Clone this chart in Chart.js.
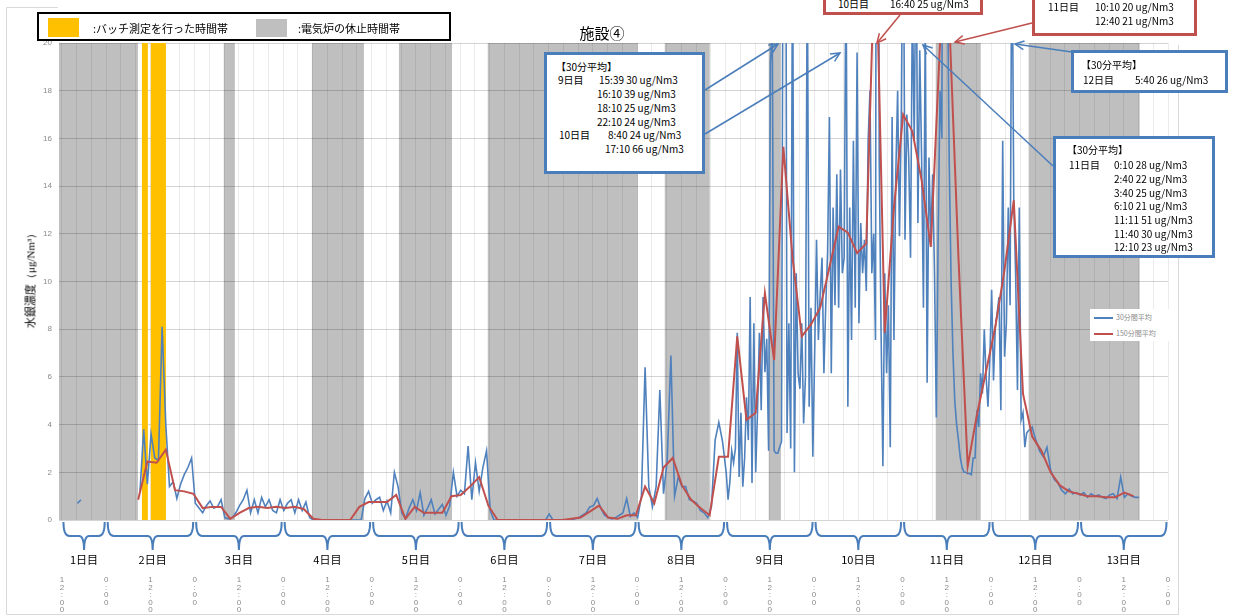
<!DOCTYPE html>
<html lang="ja">
<head>
<meta charset="utf-8">
<title>施設④</title>
<script src="https://cdn.jsdelivr.net/npm/chart.js@4.4.1/dist/chart.umd.min.js"></script>
<style>
  html, body { margin: 0; padding: 0; background: #fff; }
  #wrap { position: relative; width: 1237px; height: 616px; overflow: hidden;
          font-family: "Noto Sans CJK JP", "Noto Sans", sans-serif; color: #000; }
  #chart { position: absolute; left: 0; top: 0; }
  .abs  { position: absolute; white-space: nowrap; }
  .note { position: absolute; box-sizing: border-box; background: #fff; border: 3px solid #4a7ebb; }
  .txt  { position: absolute; font-size: 10px; line-height: 14px; white-space: nowrap; }
  .lg   { height: 16px; line-height: 16px; font-size: 7px; color: #8a8a8a; }
  .ln   { display: inline-block; width: 19px; border-top: 2px solid; vertical-align: middle; margin: 0 3px 0 4px; }
</style>
</head>
<body>
<div id="wrap">
  <canvas id="chart" width="1237" height="616"></canvas>

  <div class="abs" style="left:602px;top:32px;transform:translate(-50%,-50%);font-size:15px;">施設④</div>
  <div class="abs" style="left:30px;top:278px;transform:translate(-50%,-50%) rotate(-90deg);font-size:11px;">水銀濃度<span style="font-family:'Liberation Serif',serif;">（μg/Nm³）</span></div>

  <!-- top legend -->
  <div class="abs" style="left:37px;top:12px;width:414px;height:29px;border:2px solid #000;box-sizing:border-box;background:#fff;"></div>
  <div class="abs" style="left:48px;top:18px;width:31px;height:19px;background:#ffc000;"></div>
  <div class="abs" style="left:93px;top:20px;font-size:11px;line-height:16px;">:バッチ測定を行った時間帯</div>
  <div class="abs" style="left:256px;top:19px;width:31px;height:18px;background:#bfbfbf;"></div>
  <div class="abs" style="left:298px;top:20px;font-size:11px;line-height:16px;">:電気炉の休止時間帯</div>

  <!-- series legend -->
  <div class="abs" style="left:1090px;top:309px;width:80px;height:32px;background:#fff;">
    <div class="lg"><span class="ln" style="border-color:#4f81bd"></span>30分間平均</div>
    <div class="lg"><span class="ln" style="border-color:#c0504d"></span>150分間平均</div>
  </div>

  <div id="notes"></div>
</div>

<script>
// ── Data ─────────────────────────────────────────────────────
// hours counted from 1日目 0:00

// 30-minute average. Days 1-8: read every hour at hh:10 from 1日目 16:10
const blueDay1  = [0.7, 0.85, null, null, null, null, null, null];
const blueDay2  = [null, null, null, null, null, null, null, null, null, 1.2, 3.8, 1.5, 3.6, 2.6, 2.5, 8.1, 4.0, 1.4, 1.6, 0.9, 1.5, 1.9, 2.2, 2.6];
const blueDay3  = [0.7, 0.5, 0.3, 0.6, 0.8, 0.5, 0.55, 0.85, 0.1, 0.05, 0.1, 0.3, 0.6, 0.85, 1.25, 0.3, 0.85, 0.3, 0.95, 0.55, 0.85, 0.4, 0.3, 0.85];
const blueDay4  = [0.4, 0.7, 0.85, 0.3, 0.85, 0.4, 0.75, 0.1, 0, 0, 0, 0, 0, 0, 0, 0, 0, 0, 0, 0, 0, 0, 0.9, 1.2];
const blueDay5  = [0.7, 0.85, 0.95, 0.4, 0.8, 0.3, 2.0, 1.4, 0.3, 0.05, 0.5, 0.85, 0.4, 1.15, 0.2, 0.5, 0.85, 0.25, 0.45, 0.65, 0.2, 0.6, 2.0, 1.0];
const blueDay6  = [1.25, 1.1, 3.1, 0.85, 2.4, 1.2, 2.2, 2.9, 0.4, 0, 0, 0, 0, 0, 0, 0, 0, 0, 0, 0, 0, 0, 0, 0];
const blueDay7  = [0.25, 0, 0, 0, 0, 0, 0, 0.05, 0.1, 0.2, 0.3, 0.55, 0.6, 0.9, 0.5, 0.2, 0.1, 0.05, 0.1, 0.2, 0.3, 0.9, 0.15, 0.3];
const blueDay8  = [0.1, 1.0, 6.4, 1.4, 0.55, 1.4, 5.45, 1.1, 2.5, 6.9, 1.0, 1.8, 1.4, 1.4, 0.85, 0.8, 0.7, 0.4, 0.3, 0.1, 0.55, 3.35, 4.1, 3.3];
// Days 9-12 morning: every 30 min from 9日目 0:10
const blueDay9  = [2.0, 0.85, 1.6, 2.9, 2.4, 3.0, 7.85, 1.8, 4.5, 1.4, 2.6, 5.15, 3.35, 9.35, 1.55, 8.25, 2.0, 4.6, 7.85, 4.6, 9.35, 6.2, 7.6, 2.9,
                   19.2, 20.5, 2.9, 2.8, 2.8, 3.05, 3.3, 30, 39, 3.65, 8.25, 3.0, 25, 2.0, 10.35, 6.15, 5.5, 8.25, 4.05, 6.0, 24, 4.75, 8.9, 2.65];
const blueDay10 = [7.0, 11.75, 7.55, 9.5, 11.0, 6.15, 9.0, 11.2, 16.9, 6.15, 13.1, 9.0, 14.5, 8.9, 14.7, 10.35, 11.0, 24, 4.75, 13.1, 7.55, 15.9, 8.9, 19.6,
                   8.25, 12.45, 10.35, 11.75, 9.6, 15.9, 18, 10.35, 12, 7.55, 66, 15.2, 8, 2.25, 10.35, 6.15, 9, 3.05, 16.9, 7.55, 14.5, 18, 11.9, 17];
const blueDay11 = [28, 11.75, 17, 15.2, 11.0, 22, 15.9, 25, 12.45, 19.7, 15.2, 8.9, 21, 5.75, 15.2, 11.7, 14.5, 10.35, 4.3, 12, 18, 16, 51, 30,
                   23, 15, 10, 7, 5, 4, 3.35, 2.6, 2.2, 2.0, 2.0, 1.95, 1.95, 1.9, 2.6, 2.6, 4.6, 3.9, 6.15, 5.3, 8.0, 6.0, 4.75, 6.7];
const blueDay12am = [9.65, 5.85, 8.1, 8.7, 9.35, 4.6, 15.9, 6.85, 8.25, 13.1, 9.0, 26, 13.4, 10.35, 5.45, 13.1, 4.2, 4.5, 3.05, 3.65, 3.75, 3.8, 3.9, 3.6];
// Day 12 afternoon onwards: every hour from 12日目 12:10
const blueDay12pm = [3.35, 2.9, 2.65, 3.05, 2.1, 1.7, 1.55, 1.25, 1.1, 1.3, 1.1, 1.15];
const blueDay13   = [1.05, 1.15, 0.95, 1.1, 1.0, 1.05, 0.95, 0.9, 1.05, 1.1, 0.9, 1.8, 0.95, 1.1, 1.0, 0.95, 0.95];

// 150-minute average, every 2.5 h from 2日目 8:40
const redStartHour = 32 + 40 / 60;
const red150 = [
  0.85, 2.45, 2.4, 2.95, 1.25, 1.2, 1.1, 0.5, 0.55, 0.55,
  0.05, 0.3, 0.5, 0.55, 0.5, 0.55, 0.5, 0.55, 0.45, 0.05,
  0, 0, 0, 0, 0.55, 0.75, 0.75, 0.75, 1.05, 0.05,
  0.55, 0.3, 0.3, 0.3, 1.0, 1.05, 1.4, 1.8, 0.6, 0,
  0, 0, 0, 0, 0, 0, 0, 0.05, 0.1, 0.35,
  0.6, 0.1, 0.05, 0.2, 0.2, 1.4, 0.7, 2.2, 2.6, 1.45,
  0.85, 0.5, 0.2, 2.65, 2.65, 7.7, 4.2, 4.5, 9.5, 6.7,
  15.65, 11.0, 7.7, 8.2, 8.9, 10.6, 12.3, 12.05, 11.2, 11.6,
  25, 7.85, 13.1, 17.0, 16.3, 14.25, 11.45, 20, 21, 11,
  2.25, 4.4, 6.25, 8.1, 10.5, 13.4, 5.3, 3.5, 2.9, 2.0,
  1.45, 1.2, 1.1, 1.0, 1.0, 0.95, 0.95, 1.15, 1.0
];

// shaded periods [start h, end h]
const stopSpans  = [[11.2, 32.6], [55.9, 58.9], [79.8, 93.9], [103.4, 117.8], [127.5, 168.2],
                    [175.5, 187.7], [203.7, 207.0], [249.0, 261.2], [274.2, 304.3]];
const batchSpans = [[33.7, 35.3], [36.1, 40.2]];

// day braces under the axis
const dayLabels    = ["1日目", "2日目", "3日目", "4日目", "5日目", "6日目", "7日目", "8日目", "9日目", "10日目", "11日目", "12日目", "13日目"];
const dayStarts    = [12, 24, 48, 72, 96, 120, 144, 168, 192, 216, 240, 264, 288];
const dayEnds      = [24, 48, 72, 96, 120, 144, 168, 192, 216, 240, 264, 288, 312];
const dayLabelHour = [18, 36.6, 60, 84, 108, 132, 156, 180, 204, 228, 252, 276, 300];

const yTicks = [0, 2, 4, 6, 8, 10, 12, 14, 16, 18, 20];

// ── Colours ──────────────────────────────────────────────────
const BLUE = "#4f81bd";
const RED  = "#c0504d";
const NOTE_BLUE = "#4a7ebb";

// ── Annotation boxes (page pixels) ───────────────────────────
const noteBoxes = [
  { x: 544,  y: 52,  w: 161, h: 122, color: NOTE_BLUE },
  { x: 823,  y: -16, w: 160, h: 31,  color: RED },
  { x: 1032, y: -30, w: 165, h: 66,  color: RED },
  { x: 1071, y: 50,  w: 157, h: 43,  color: NOTE_BLUE },
  { x: 1053, y: 136, w: 162, h: 122, color: NOTE_BLUE },
];
const noteTexts = [
  ["【30分平均】", 556, 67],
  ["9日目", 558, 80],  ["15:39 30 ug/Nm3", 599, 80],
  ["16:10 39 ug/Nm3", 597, 94],
  ["18:10 25 ug/Nm3", 597, 108],
  ["22:10 24 ug/Nm3", 597, 122],
  ["10日目", 559, 135], ["8:40 24 ug/Nm3", 608, 135],
  ["17:10 66 ug/Nm3", 605, 149],

  ["10日目", 838, 4], ["16:40 25 ug/Nm3", 890, 4],

  ["11日目", 1048, 7], ["10:10 20 ug/Nm3", 1095, 7],
  ["12:40 21 ug/Nm3", 1095, 21],

  ["【30分平均】", 1081, 65],
  ["12日目", 1083, 80], ["5:40 26 ug/Nm3", 1135, 80],

  ["【30分平均】", 1067, 150],
  ["11日目", 1069, 165], ["0:10 28 ug/Nm3", 1114, 165],
  ["2:40 22 ug/Nm3", 1114, 179],
  ["3:40 25 ug/Nm3", 1114, 193],
  ["6:10 21 ug/Nm3", 1114, 206],
  ["11:11 51 ug/Nm3", 1114, 220],
  ["11:40 30 ug/Nm3", 1114, 234],
  ["12:10 23 ug/Nm3", 1114, 247],
];
// [x1, y1, x2 (tip), y2 (tip), colour]
const noteArrows = [
  [705, 90, 778, 44, NOTE_BLUE],
  [705, 134, 840, 53, NOTE_BLUE],
  [900, 15, 877, 43, RED],
  [1032, 23, 955, 42, RED],
  [1072, 52, 1015, 44, NOTE_BLUE],
  [1053, 166, 923, 45, NOTE_BLUE],
];

// ── Build notes (HTML, so the text stays real text) ──────────
const notesEl = document.getElementById("notes");
noteBoxes.forEach(b => {
  const d = document.createElement("div");
  d.className = "note";
  d.style.cssText = `left:${b.x}px;top:${b.y}px;width:${b.w}px;height:${b.h}px;border-color:${b.color};`;
  notesEl.appendChild(d);
});
noteTexts.forEach(([t, x, y]) => {
  const s = document.createElement("div");
  s.className = "txt";
  s.style.left = x + "px";
  s.style.top  = (y - 7) + "px";
  s.textContent = t;
  notesEl.appendChild(s);
});

// ── Series ───────────────────────────────────────────────────
const blueSegments = [
  { start: 16 + 10 / 60,  step: 1,   values: [].concat(blueDay1, blueDay2, blueDay3, blueDay4, blueDay5, blueDay6, blueDay7, blueDay8) },
  { start: 192 + 10 / 60, step: 0.5, values: [].concat(blueDay9, blueDay10, blueDay11, blueDay12am) },
  { start: 276 + 10 / 60, step: 1,   values: [].concat(blueDay12pm, blueDay13) },
];
const bluePoints = blueSegments.flatMap(s => s.values.map((v, i) => ({ x: s.start + s.step * i, y: v })));
const redPoints  = red150.map((v, k) => ({ x: redStartHour + 2.5 * k, y: v }));

// vertical grid every 4 h
const gridHours = [];
for (let h = 12; h <= 312; h += 4) gridHours.push(h);

// ── Helpers ──────────────────────────────────────────────────
function drawArrow(ctx, x1, y1, x2, y2, color) {
  const ang = Math.atan2(y2 - y1, x2 - x1), len = 10, spread = 0.45;
  ctx.strokeStyle = color;
  ctx.lineWidth = 1.5;
  ctx.beginPath(); ctx.moveTo(x1, y1); ctx.lineTo(x2, y2); ctx.stroke();
  ctx.beginPath();
  ctx.moveTo(x2 - len * Math.cos(ang - spread), y2 - len * Math.sin(ang - spread));
  ctx.lineTo(x2, y2);
  ctx.lineTo(x2 - len * Math.cos(ang + spread), y2 - len * Math.sin(ang + spread));
  ctx.stroke();
}

function fillSpans(chart, spans, color) {
  const { ctx, chartArea: a, scales: { x } } = chart;
  ctx.save();
  ctx.fillStyle = color;
  spans.forEach(([s, e]) => {
    const x0 = Math.max(x.getPixelForValue(s), a.left);
    const x1 = Math.min(x.getPixelForValue(e), a.right);
    ctx.fillRect(x0, a.top, x1 - x0, a.bottom - a.top);
  });
  ctx.restore();
}

// ── Plugin: shading, braces, arrows, frame ───────────────────
const decorations = {
  id: "decorations",
  beforeDraw(chart) { fillSpans(chart, stopSpans, "#bfbfbf"); },
  beforeDatasetsDraw(chart) { fillSpans(chart, batchSpans, "#ffc000"); },
  afterDraw(chart) {
    const { ctx, chartArea: a, scales: { x } } = chart;
    ctx.save();

    // braces + day labels
    ctx.strokeStyle = NOTE_BLUE;
    ctx.lineWidth = 2;
    const yTop = a.bottom + 2, yMid = a.bottom + 16, yTip = a.bottom + 30;
    dayLabels.forEach((lab, i) => {
      const x0 = x.getPixelForValue(dayStarts[i]) + 1.5;
      const x1 = x.getPixelForValue(dayEnds[i]) - 1.5;
      const xc = x.getPixelForValue(dayLabelHour[i]);
      ctx.beginPath();
      ctx.moveTo(x0, yTop);
      ctx.quadraticCurveTo(x0, yMid, x0 + 6, yMid);
      ctx.lineTo(xc - 5, yMid);
      ctx.quadraticCurveTo(xc, yMid, xc, yTip);
      ctx.quadraticCurveTo(xc, yMid, xc + 5, yMid);
      ctx.lineTo(x1 - 6, yMid);
      ctx.quadraticCurveTo(x1, yMid, x1, yTop);
      ctx.stroke();

      ctx.fillStyle = "#000";
      ctx.font = '11px "Noto Sans CJK JP"';
      ctx.textAlign = "center";
      ctx.textBaseline = "middle";
      ctx.fillText(lab, xc, a.bottom + 40);
    });

    // callout arrows
    noteArrows.forEach(([x1, y1, x2, y2, c]) => drawArrow(ctx, x1, y1, x2, y2, c));

    // outer frame
    ctx.strokeStyle = "#d9d9d9";
    ctx.lineWidth = 1;
    ctx.beginPath();
    ctx.moveTo(58, 7.5);  ctx.lineTo(6.5, 7.5);  ctx.lineTo(6.5, 614.5);
    ctx.lineTo(1178.5, 614.5); ctx.lineTo(1178.5, 45);
    ctx.stroke();
    ctx.restore();
  },
};

// ── Chart ────────────────────────────────────────────────────
new Chart(document.getElementById("chart"), {
  type: "line",
  data: {
    datasets: [
      { label: "150分間平均", data: redPoints,  borderColor: RED,  borderWidth: 2, pointRadius: 0, tension: 0, order: 0 },
      { label: "30分間平均",  data: bluePoints, borderColor: BLUE, borderWidth: 1.6, pointRadius: 0, tension: 0, order: 1 },
    ],
  },
  options: {
    responsive: false,
    animation: false,
    layout: { padding: { left: 0, top: 43, right: 69, bottom: 0 } },
    plugins: { legend: { display: false }, tooltip: { enabled: false } },
    scales: {
      x: {
        type: "linear",
        min: 11.2,
        max: 312,
        afterBuildTicks: s => { s.ticks = gridHours.map(v => ({ value: v })); },
        afterFit: s => { s.height = 96; },
        grid: { color: "rgba(0,0,0,0.08)", drawTicks: false },
        border: { display: false },
        ticks: {
          autoSkip: false,
          maxRotation: 0,
          padding: 56,
          color: "#8a8a8a",
          font: { family: "Liberation Sans", size: 8, lineHeight: 0.95 },
          callback: v => v % 24 === 0 ? ["0", ":", "0", "0"]
                       : v % 24 === 12 ? ["1", "2", ":", "0", "0"] : "",
        },
      },
      y: {
        min: 0,
        max: 20,
        afterBuildTicks: s => { s.ticks = yTicks.map(v => ({ value: v })); },
        afterFit: s => { s.width = 59; },
        grid: { color: "rgba(0,0,0,0.17)", drawTicks: false },
        border: { display: false },
        ticks: { padding: 7, color: "#8a8a8a", font: { family: "Liberation Sans", size: 8 } },
      },
    },
  },
  plugins: [decorations],
});
</script>
</body>
</html>
